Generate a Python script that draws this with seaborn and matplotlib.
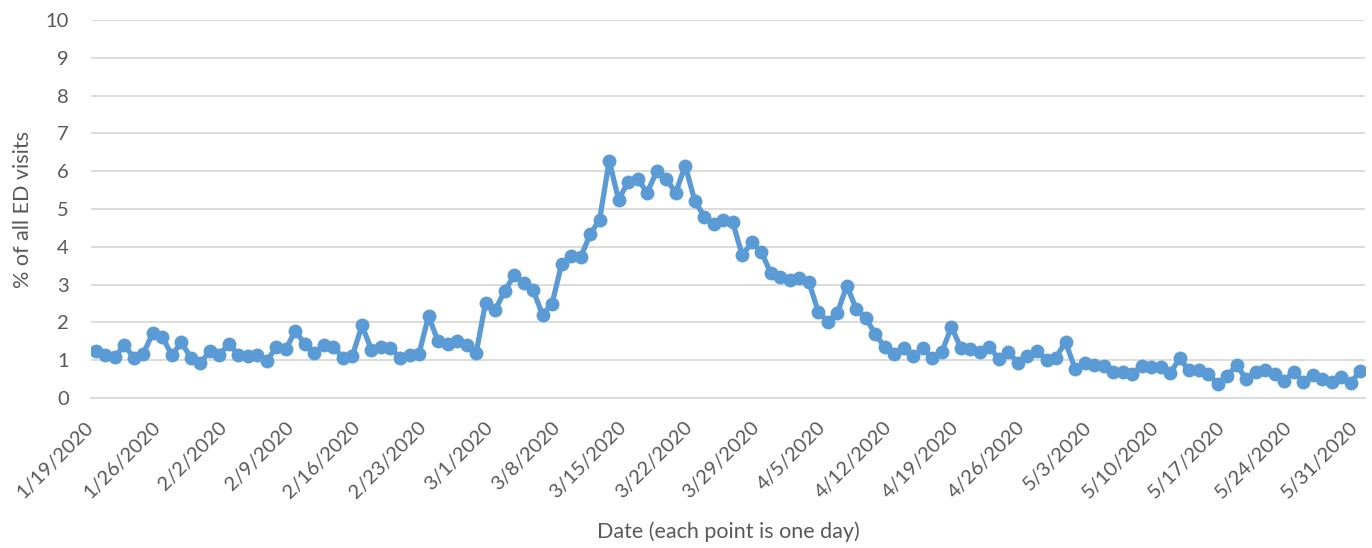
import numpy as np
import pandas as pd
import matplotlib
matplotlib.use("Agg")
import matplotlib.pyplot as plt
import matplotlib.transforms as mtransforms
import seaborn as sns

start_date = "2020-01-19"
end_date = "2020-05-31"

jan = [1.25, 1.15, 1.08, 1.40, 1.07, 1.17, 1.72, 1.62, 1.13, 1.47, 1.07, 0.92, 1.25]
feb = [1.15, 1.42, 1.15, 1.10, 1.15, 0.98, 1.35, 1.30, 1.78, 1.42, 1.20, 1.40, 1.35,
       1.07, 1.12, 1.92, 1.27, 1.35, 1.32, 1.07, 1.15, 1.17, 2.17, 1.50, 1.43, 1.50,
       1.40, 1.18, 2.52]
mar = [2.33, 2.82, 3.25, 3.05, 2.85, 2.20, 2.50, 3.55, 3.75, 3.72, 4.33, 4.72, 6.27,
       5.25, 5.72, 5.80, 5.43, 6.00, 5.80, 5.43, 6.15, 5.22, 4.80, 4.60, 4.70, 4.65,
       3.77, 4.12, 3.87, 3.30, 3.20]
apr = [3.13, 3.17, 3.07, 2.28, 2.02, 2.25, 2.97, 2.35, 2.12, 1.68, 1.35, 1.17, 1.32,
       1.10, 1.32, 1.05, 1.22, 1.88, 1.32, 1.30, 1.22, 1.35, 1.03, 1.22, 0.92, 1.10,
       1.25, 1.00, 1.07, 1.48]
may = [0.78, 0.92, 0.87, 0.85, 0.68, 0.68, 0.63, 0.85, 0.82, 0.83, 0.65, 1.05, 0.73,
       0.75, 0.63, 0.38, 0.58, 0.87, 0.50, 0.68, 0.73, 0.63, 0.45, 0.70, 0.43, 0.60,
       0.50, 0.43, 0.55, 0.40, 0.72]

values = jan + feb + mar + apr + may
dates = pd.date_range(start_date, end_date, freq="D")
df = pd.DataFrame({"day": np.arange(len(dates)), "pct": values})

tick_days = list(range(0, len(dates), 7))
tick_labels = [f"{dates[i].month}/{dates[i].day}/{dates[i].year}" for i in tick_days]

sns.set_theme(style="white")
plt.rcParams["font.family"] = ["Lato", "DejaVu Sans"]

fig = plt.figure(figsize=(13.72, 5.48), dpi=100)
ax = fig.add_axes([91 / 1372, 1 - 398 / 548, (1365 - 91) / 1372, (398 - 20) / 548])

line_color = "#5B9BD5"
sns.lineplot(data=df, x="day", y="pct", ax=ax, color=line_color, linewidth=3.8,
             marker="o", markersize=10, markeredgewidth=0, markeredgecolor=line_color)

ax.set_xlim(-0.5, len(dates) - 0.5)
ax.set_ylim(0, 10)
ax.set_yticks(range(0, 11))
ax.yaxis.grid(True, color="#D9D9D9", linewidth=1.3)
ax.set_axisbelow(True)
ax.set_xticks([d - 0.5 for d in tick_days] + [len(dates) - 0.5])
ax.set_xticklabels(tick_labels + [""], rotation=45, ha="right", va="center",
                   rotation_mode="anchor")
shift = mtransforms.ScaledTranslation(5 / 100, 0, fig.dpi_scale_trans)
for lab in ax.get_xticklabels():
    lab.set_transform(lab.get_transform() + shift)

for s in ["top", "right", "left"]:
    ax.spines[s].set_visible(False)
ax.spines["bottom"].set_color("#D9D9D9")
ax.spines["bottom"].set_linewidth(1.3)

ax.tick_params(axis="x", length=7, width=1.3, color="#D9D9D9", direction="out",
               labelsize=14.5, labelcolor="#595959", pad=12)
ax.tick_params(axis="y", length=0, labelsize=14.5, labelcolor="#595959", pad=16)

ax.set_xlabel("Date (each point is one day)", fontsize=15.5, color="#595959", labelpad=14)
ax.set_ylabel("% of all ED visits", fontsize=15.5, color="#595959", labelpad=9)

fig.savefig("out.png", dpi=100)
